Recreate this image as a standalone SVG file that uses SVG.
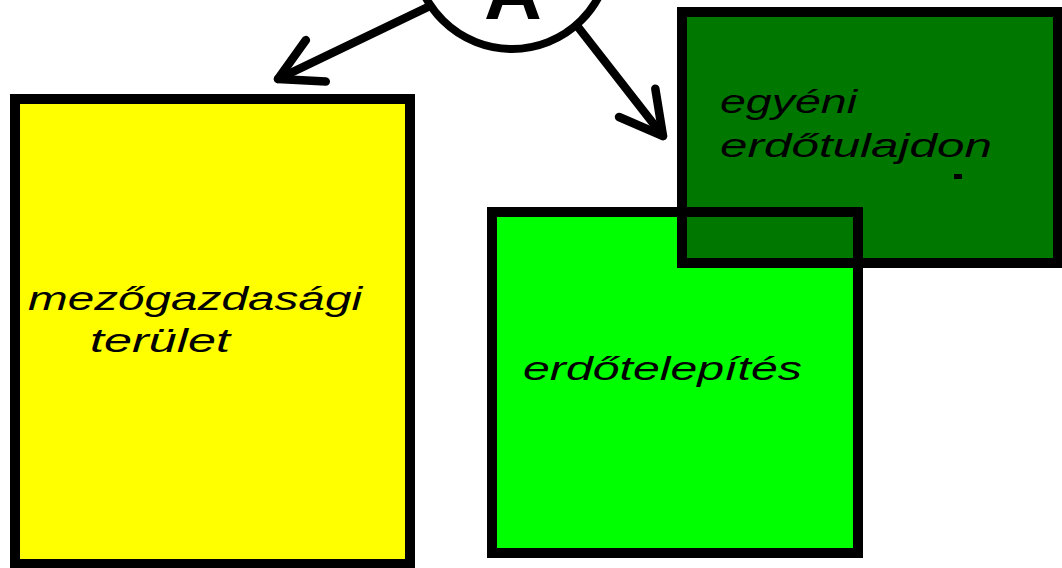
<svg xmlns="http://www.w3.org/2000/svg" width="1062" height="568" viewBox="0 0 1062 568">
<style>
.box{stroke:#000;stroke-width:10}
.lbl{font-family:"Liberation Sans",Arial,sans-serif;font-style:italic;font-size:34px;fill:#000}
.conn{fill:none;stroke:#000;stroke-width:8.5;stroke-linecap:round}
</style>
<defs>
<marker id="arrow" markerUnits="userSpaceOnUse" markerWidth="60" markerHeight="60" refX="0" refY="0" orient="auto" overflow="visible">
<path d="M-42,-23 L0,0 L-42,23" fill="none" stroke="#000" stroke-width="8.5" stroke-linecap="round" stroke-linejoin="round"/>
</marker>
</defs>
<rect width="1062" height="568" fill="#fff"/>
<g id="node-circle">
<circle cx="512" cy="-49" r="98" fill="#fff" stroke="#000" stroke-width="8"/>
<text x="513" y="19" text-anchor="middle" font-family="Liberation Sans,Arial,sans-serif" font-weight="bold" font-size="80">A</text>
</g>
<g id="connectors">
<path class="conn" d="M430,6 L278,79" marker-end="url(#arrow)"/>
<path class="conn" d="M578,27 L663,136" marker-end="url(#arrow)"/>
</g>
<g id="node-mezogazdasagi">
<rect class="box" x="15" y="99" width="395" height="465" fill="#ffff00"/>
<text class="lbl" x="28" y="310" textLength="334" lengthAdjust="spacingAndGlyphs">mezőgazdasági</text>
<text class="lbl" x="90" y="352" textLength="140" lengthAdjust="spacingAndGlyphs">terület</text>
</g>
<g id="node-egyeni">
<rect class="box" x="682" y="12" width="376" height="251" fill="#007800"/>
<text class="lbl" x="720" y="113" textLength="137" lengthAdjust="spacingAndGlyphs">egyéni</text>
<text class="lbl" x="720" y="157" textLength="272" lengthAdjust="spacingAndGlyphs">erdőtulajdon</text>
<rect x="954" y="174" width="8" height="5" fill="#000"/>
</g>
<g id="node-erdotelepites">
<path d="M492,212 L677,212 L677,268 L858,268 L858,553 L492,553 Z" fill="#00ff00"/>
<rect class="box" x="492" y="212" width="366" height="341" fill="none"/>
<text class="lbl" x="523" y="380" textLength="279" lengthAdjust="spacingAndGlyphs">erdőtelepítés</text>
</g>
</svg>
